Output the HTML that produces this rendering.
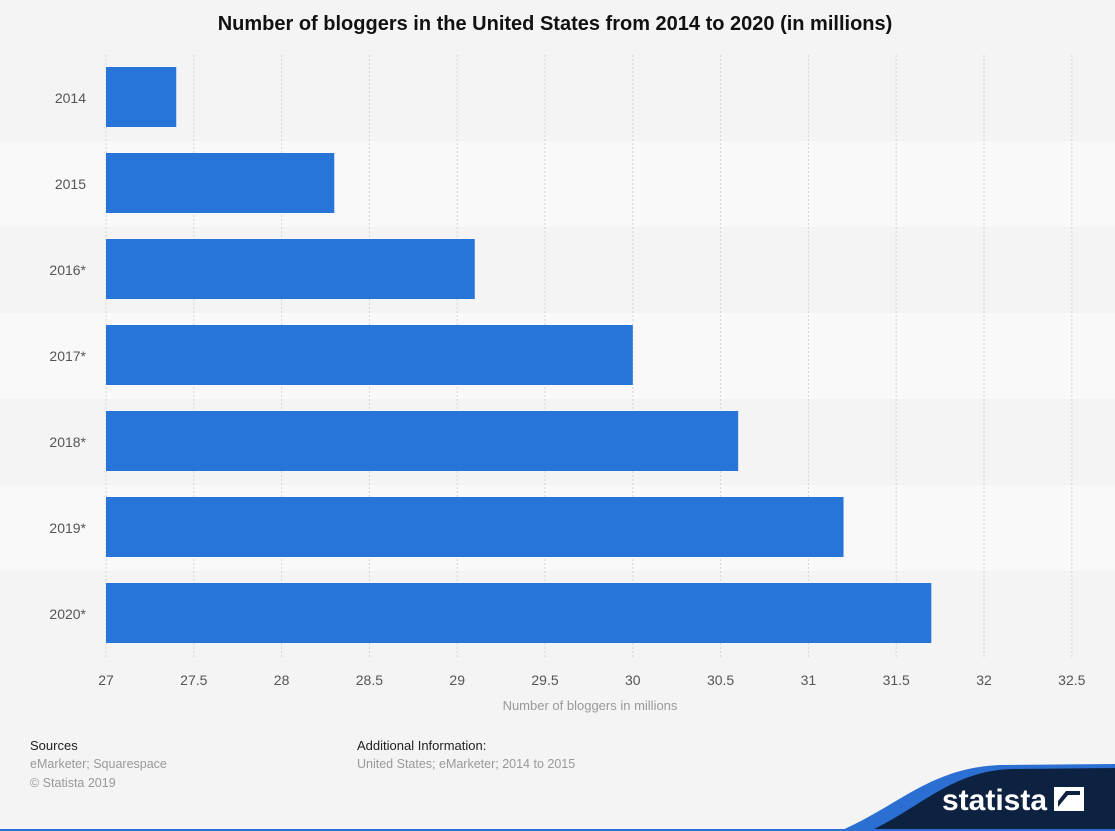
<!DOCTYPE html>
<html><head><meta charset="utf-8"><style>
body{margin:0;width:1115px;height:831px;overflow:hidden;background:#f4f4f4;font-family:"Liberation Sans",sans-serif}
</style></head><body>
<svg width="1115" height="831" style="position:absolute;left:0;top:0">
<text x="555" y="30" text-anchor="middle" font-size="20" font-weight="bold" fill="#111">Number of bloggers in the United States from 2014 to 2020 (in millions)</text>
<g id="bands"></g><g id="grid"></g><g id="bars"></g><g id="ylab"></g><g id="xlab"></g>
<text x="590" y="710" text-anchor="middle" font-size="13" fill="#999">Number of bloggers in millions</text>
<text x="30" y="750" font-size="13" fill="#222">Sources</text>
<text x="30" y="768" font-size="12.5" fill="#999">eMarketer; Squarespace</text>
<text x="30" y="787" font-size="12.5" fill="#999">© Statista 2019</text>
<text x="357" y="750" font-size="13" fill="#222">Additional Information:</text>
<text x="357" y="768" font-size="12.5" fill="#999">United States; eMarketer; 2014 to 2015</text>
<path d="M840,831 C900,805 930,768 1000,765 L1115,764 L1115,831 Z" fill="#2a6fd1"/>
<path d="M870,831 C920,808 950,772 1010,769 L1115,768 L1115,831 Z" fill="#0d2240"/>
<text x="942" y="810" font-size="30" font-weight="bold" fill="#fff">statista</text>
<g><rect x="1054" y="787" width="30" height="24" fill="#fff"/><path d="M1058,807 L1068,795 L1080,795 L1080,791 L1066,791 L1058,801 Z" fill="#0d2240"/></g>
<rect x="0" y="829" width="1115" height="2" fill="#2a6fd1"/>
</svg>
<script>
const categories=["2014","2015","2016*","2017*","2018*","2019*","2020*"];
const values=[27.4,28.3,29.1,30,30.6,31.2,31.7];
const ticks=[27,27.5,28,28.5,29,29.5,30,30.5,31,31.5,32,32.5];
const tickLabels=["27","27.5","28","28.5","29","29.5","30","30.5","31","31.5","32","32.5"];
const NS="http://www.w3.org/2000/svg";
const x=v=>106+(v-27)*175.6;
const top0=55,rowH=86;
const y=i=>top0+i*rowH;
function mk(t,a,p){const e=document.createElementNS(NS,t);for(const k in a)e.setAttribute(k,a[k]);document.getElementById(p).appendChild(e);return e;}
categories.forEach((c,i)=>{
 const b=mk('rect',{x:0,y:y(i),width:1115,height:rowH,fill:i%2?'#f9f9f9':'#f4f4f4'},'bands');
 
 
});
ticks.forEach((t,i)=>{
 const l=mk('line',{x1:x(t),x2:x(t),y1:top0,y2:top0+7*rowH,stroke:'#d4d4d4','stroke-dasharray':'2,2'},'grid');
 
 
 const tx=mk('text',{x:x(t),y:685,'text-anchor':'middle','font-size':14,fill:'#555'},'xlab');
 tx.textContent=tickLabels[i];
 
 
});
categories.forEach((c,i)=>{
 const r=mk('rect',{x:x(27),y:y(i)+12,width:x(values[i])-x(27),height:60,fill:'#2875d9'},'bars');
 
 
 const t=mk('text',{x:86,y:y(i)+48,'text-anchor':'end','font-size':14,fill:'#555'},'ylab');
 t.textContent=c;
 
 
});
</script>
</body></html>
